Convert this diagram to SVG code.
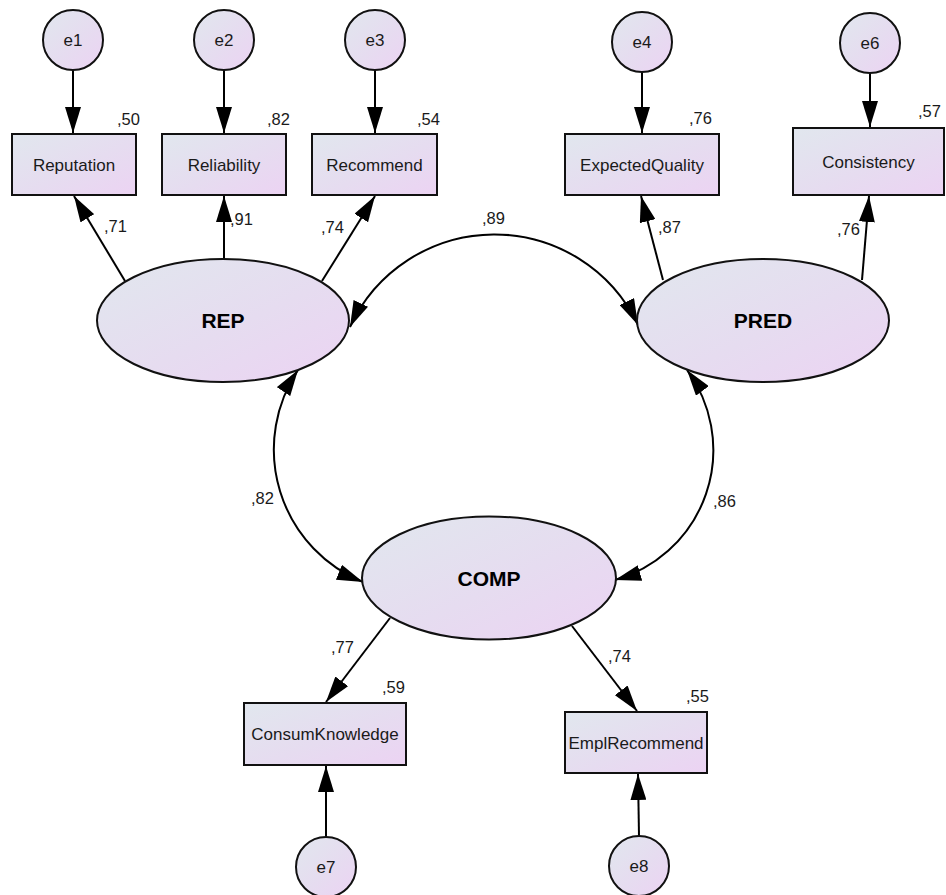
<svg xmlns="http://www.w3.org/2000/svg" width="946" height="895" viewBox="0 0 946 895">
  <defs>
    <linearGradient id="fillGrad" x1="0" y1="0" x2="1" y2="1">
      <stop offset="0" stop-color="#e1e7ee"/>
      <stop offset="0.55" stop-color="#e6dcf0"/>
      <stop offset="1" stop-color="#ecd3f3"/>
    </linearGradient>
    <marker id="arrow" viewBox="0 0 26 16" refX="26" refY="8" markerWidth="26" markerHeight="16" markerUnits="userSpaceOnUse" orient="auto-start-reverse">
      <path d="M0,0 L26,8 L0,16 z" fill="#000"/>
    </marker>
  </defs>
  <style>
    .shape { fill: url(#fillGrad); stroke: #111; stroke-width: 2; }
    .lbl { font-family: "Liberation Sans", Arial, sans-serif; font-size: 17px; fill: #1a1a1a; text-anchor: middle; }
    .num { font-family: "Liberation Sans", Arial, sans-serif; font-size: 16.5px; fill: #1a1a1a; }
    .lat { font-family: "Liberation Sans", Arial, sans-serif; font-size: 21px; font-weight: bold; fill: #000; text-anchor: middle; }
    .edge { fill: none; stroke: #000; stroke-width: 2; marker-end: url(#arrow); }
    .cov { fill: none; stroke: #000; stroke-width: 2; marker-start: url(#arrow); marker-end: url(#arrow); }
  </style>
  <rect width="946" height="895" fill="#fff"/>

  <!-- connectors -->
  <g id="connectors">
    <!-- error terms to indicators -->
    <path class="edge" d="M73,70 L73,133"/>
    <path class="edge" d="M224,70 L224,133"/>
    <path class="edge" d="M375,70 L375,133"/>
    <path class="edge" d="M642,72 L642,133"/>
    <path class="edge" d="M870,73 L870,127"/>
    <path class="edge" d="M326,837 L326,766"/>
    <path class="edge" d="M639,836 L638,774"/>
    <!-- loadings -->
    <path class="edge" d="M125,281 L74,196"/>
    <path class="edge" d="M224,259 L224,196"/>
    <path class="edge" d="M322,281 L375,196"/>
    <path class="edge" d="M663,280 L641,196"/>
    <path class="edge" d="M862,280 L869,196"/>
    <path class="edge" d="M390,618 L326,702"/>
    <path class="edge" d="M572,626 L637,711"/>
    <!-- covariances -->
    <path class="cov" d="M350,327 A159,159 0 0 1 638,325"/>
    <path class="cov" d="M298,370 A143,143 0 0 0 363,582"/>
    <path class="cov" d="M687,370 A135,135 0 0 1 615,580"/>
  </g>

  <!-- edge values -->
  <g id="values">
    <text class="num" x="117" y="125">,50</text>
    <text class="num" x="267" y="125">,82</text>
    <text class="num" x="417" y="125">,54</text>
    <text class="num" x="689" y="124">,76</text>
    <text class="num" x="918" y="117">,57</text>
    <text class="num" x="104" y="232">,71</text>
    <text class="num" x="230" y="225">,91</text>
    <text class="num" x="321" y="233">,74</text>
    <text class="num" x="658" y="233">,87</text>
    <text class="num" x="837" y="235">,76</text>
    <text class="num" x="482" y="224">,89</text>
    <text class="num" x="251" y="504">,82</text>
    <text class="num" x="713" y="507">,86</text>
    <text class="num" x="331" y="653">,77</text>
    <text class="num" x="608" y="662">,74</text>
    <text class="num" x="382" y="693">,59</text>
    <text class="num" x="686" y="702">,55</text>
  </g>

  <!-- error terms -->
  <g id="e1"><circle class="shape" cx="73" cy="40" r="30"/><text class="lbl" x="73" y="46">e1</text></g>
  <g id="e2"><circle class="shape" cx="224" cy="40" r="30"/><text class="lbl" x="224" y="46">e2</text></g>
  <g id="e3"><circle class="shape" cx="375" cy="40" r="30"/><text class="lbl" x="375" y="46">e3</text></g>
  <g id="e4"><circle class="shape" cx="642" cy="42" r="30"/><text class="lbl" x="642" y="48">e4</text></g>
  <g id="e6"><circle class="shape" cx="870" cy="43" r="30"/><text class="lbl" x="870" y="49">e6</text></g>
  <g id="e7"><circle class="shape" cx="326" cy="867" r="30"/><text class="lbl" x="326" y="873">e7</text></g>
  <g id="e8"><circle class="shape" cx="639" cy="866" r="30"/><text class="lbl" x="639" y="872">e8</text></g>

  <!-- observed indicators -->
  <g id="Reputation"><rect class="shape" x="12" y="134" width="124" height="61"/><text class="lbl" x="74" y="170.5">Reputation</text></g>
  <g id="Reliability"><rect class="shape" x="162" y="134" width="124" height="61"/><text class="lbl" x="224" y="170.5">Reliability</text></g>
  <g id="Recommend"><rect class="shape" x="312" y="134" width="125" height="61"/><text class="lbl" x="374.5" y="170.5">Recommend</text></g>
  <g id="ExpectedQuality"><rect class="shape" x="565" y="134" width="154" height="61"/><text class="lbl" x="642" y="170.5">ExpectedQuality</text></g>
  <g id="Consistency"><rect class="shape" x="793" y="128" width="151" height="67"/><text class="lbl" x="868.5" y="167.5">Consistency</text></g>
  <g id="ConsumKnowledge"><rect class="shape" x="244" y="703" width="162" height="62"/><text class="lbl" x="325" y="740">ConsumKnowledge</text></g>
  <g id="EmplRecommend"><rect class="shape" x="565" y="712" width="142" height="61"/><text class="lbl" x="636" y="748.5">EmplRecommend</text></g>

  <!-- latent variables -->
  <g id="REP"><ellipse class="shape" cx="223" cy="320.5" rx="126" ry="61.5"/><text class="lat" x="223" y="328">REP</text></g>
  <g id="PRED"><ellipse class="shape" cx="763" cy="320.5" rx="126" ry="61.5"/><text class="lat" x="763" y="328">PRED</text></g>
  <g id="COMP"><ellipse class="shape" cx="489" cy="578" rx="127" ry="61.5"/><text class="lat" x="489" y="586">COMP</text></g>
</svg>
